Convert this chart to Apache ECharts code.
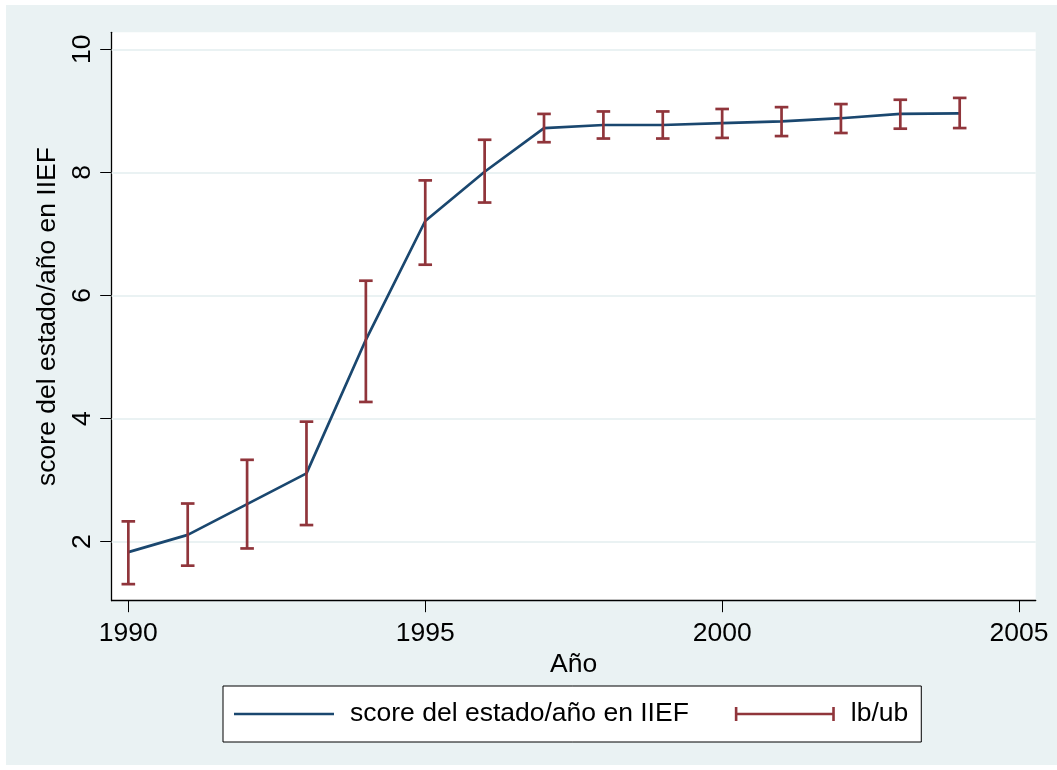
<!DOCTYPE html>
<html>
<head>
<meta charset="utf-8">
<script src="https://cdn.jsdelivr.net/npm/echarts@6/dist/echarts.min.js"></script>
<style>
  html, body { margin: 0; padding: 0; background: #ffffff; }
  #chart { position: absolute; left: 6px; top: 5px; width: 1051px; height: 760px; }
</style>
</head>
<body>
<div id="chart"></div>
<script>
// Yearly score with lower/upper bounds
const years = [1990, 1991, 1992, 1993, 1994, 1995, 1996, 1997, 1998, 1999, 2000, 2001, 2002, 2003, 2004];
const score = [1.83, 2.11, 2.61, 3.11, 5.28, 7.21, 8.01, 8.72, 8.77, 8.77, 8.80, 8.83, 8.88, 8.95, 8.96];
const lower = [1.31, 1.61, 1.89, 2.27, 4.27, 6.50, 7.51, 8.49, 8.55, 8.55, 8.56, 8.59, 8.64, 8.71, 8.72];
const upper = [2.33, 2.62, 3.33, 3.95, 6.24, 7.87, 8.53, 8.95, 8.99, 8.99, 9.03, 9.06, 9.11, 9.18, 9.21];

const xTicks = [1990, 1995, 2000, 2005];
const yTicks = [2, 4, 6, 8, 10];

const lineName = 'score del estado/año en IIEF';
const capName = 'lb/ub';
const xTitle = 'Año';
const yTitle = 'score del estado/año en IIEF';

const FONT = "'Liberation Sans', Arial, sans-serif";
const FS = 26.5;
const NAVY = '#1a476f';
const MAROON = '#90353b';
const BG = '#eaf2f3';

const chart = echarts.init(document.getElementById('chart'), null, { renderer: 'canvas' });

chart.setOption({
  backgroundColor: BG,
  animation: false,
  textStyle: { fontFamily: FONT, color: '#000' },
  grid: {
    left: 105.7, right: 21.3, top: 27.3, bottom: 164.3,
    show: true, backgroundColor: '#ffffff', borderWidth: 0
  },
  legend: {
    left: 217, top: 681,
    orient: 'horizontal',
    backgroundColor: '#ffffff',
    borderColor: '#000000',
    borderWidth: 1,
    padding: [13, 13, 13, 11],
    itemWidth: 100,
    itemHeight: 14,
    itemGap: 46,
    symbolKeepAspect: true,
    textStyle: { fontFamily: FONT, fontSize: FS, color: '#000', lineHeight: 30, padding: [0, 0, 0, 11] },
    data: [
      { name: lineName, icon: 'path://M0,0H100V2.7H0Z' },
      { name: capName, icon: 'path://M0,0H2.6V5.7H97.4V0H100V14H97.4V8.3H2.6V14H0Z' }
    ]
  },
  xAxis: {
    type: 'value',
    min: 1989.72, max: 2005.28,
    name: xTitle,
    nameLocation: 'middle',
    nameGap: 47,
    nameTextStyle: { fontFamily: FONT, fontSize: FS, color: '#000' },
    axisLine: { show: true, lineStyle: { color: '#000', width: 1.3 } },
    axisTick: { show: true, length: 11.5, customValues: xTicks, lineStyle: { color: '#000', width: 1 } },
    axisLabel: {
      customValues: xTicks, margin: 19, fontSize: FS, color: '#000', fontFamily: FONT,
      formatter: v => String(v)
    },
    splitLine: { show: false }
  },
  yAxis: {
    type: 'value',
    min: 1.041, max: 10.276,
    name: yTitle,
    nameLocation: 'middle',
    nameGap: 34,
    nameRotate: 90,
    nameTextStyle: { fontFamily: FONT, fontSize: FS, color: '#000' },
    axisLine: { show: true, lineStyle: { color: '#000', width: 1.3 } },
    axisTick: { show: true, length: 11.5, customValues: yTicks, lineStyle: { color: '#000', width: 1 } },
    axisLabel: {
      customValues: yTicks, rotate: 90, margin: 16, fontSize: FS, color: '#000', fontFamily: FONT,
      formatter: v => String(v)
    },
    splitLine: { show: false }
  },
  series: [
    {
      name: lineName,
      type: 'line',
      data: years.map((y, i) => [y, score[i]]),
      symbol: 'none',
      lineStyle: { color: NAVY, width: 2.7 },
      itemStyle: { color: NAVY },
      z: 3,
      markLine: {
        silent: true,
        symbol: 'none',
        label: { show: false },
        lineStyle: { color: BG, width: 2, type: 'solid' },
        z: 1,
        data: yTicks.map(v => ({ yAxis: v }))
      }
    },
    {
      name: capName,
      type: 'custom',
      itemStyle: { color: MAROON },
      z: 4,
      data: years.map((y, i) => [y, lower[i], upper[i]]),
      renderItem: function (params, api) {
        const x = api.value(0);
        const lo = api.coord([x, api.value(1)]);
        const hi = api.coord([x, api.value(2)]);
        const half = 6.8;
        const color = api.visual('color');
        const st = { stroke: color, lineWidth: 2.7 };
        return {
          type: 'group',
          children: [
            { type: 'line', shape: { x1: lo[0], y1: lo[1], x2: hi[0], y2: hi[1] }, style: st },
            { type: 'line', shape: { x1: lo[0] - half, y1: lo[1], x2: lo[0] + half, y2: lo[1] }, style: st },
            { type: 'line', shape: { x1: hi[0] - half, y1: hi[1], x2: hi[0] + half, y2: hi[1] }, style: st }
          ]
        };
      }
    }
  ]
});
</script>
</body>
</html>
